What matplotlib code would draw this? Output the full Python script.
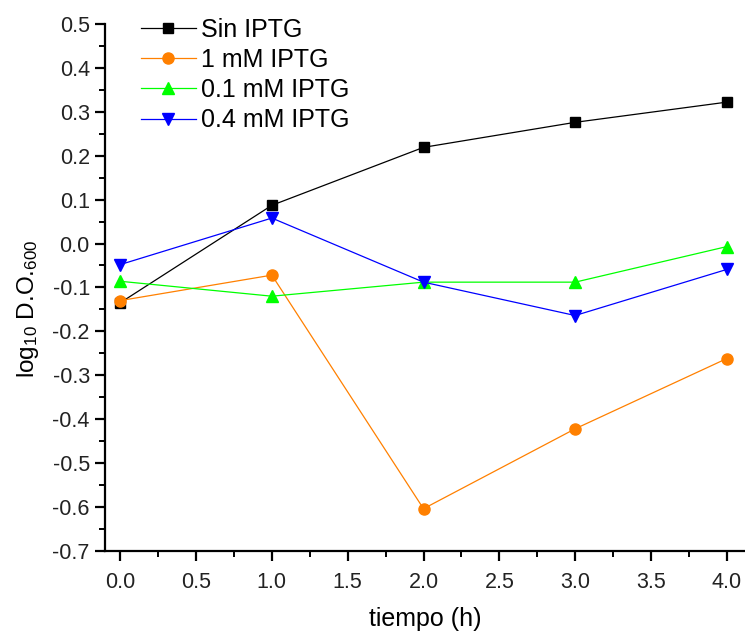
import matplotlib.pyplot as plt
from matplotlib.ticker import MultipleLocator, FormatStrFormatter

plt.rcParams['font.family'] = ['Liberation Sans', 'DejaVu Sans']
plt.rcParams['mathtext.fontset'] = 'custom'
plt.rcParams['mathtext.rm'] = 'Liberation Sans'
plt.rcParams['mathtext.it'] = 'Liberation Sans:italic'
plt.rcParams['mathtext.bf'] = 'Liberation Sans:bold'

tiempo = [0, 1, 2, 3, 4]
sin_iptg = [-0.135, 0.087, 0.219, 0.276, 0.322]
iptg_1mm = [-0.130, -0.072, -0.604, -0.422, -0.262]
iptg_01mm = [-0.086, -0.120, -0.088, -0.088, -0.007]
iptg_04mm = [-0.048, 0.058, -0.088, -0.164, -0.059]

fig = plt.figure(figsize=(7.45, 6.31), dpi=100)
ax = fig.add_axes([0.141, 0.127, 0.859, 0.835])

ax.plot(tiempo, sin_iptg, '-s', color='black', lw=0.9, ms=7.5, label='Sin IPTG')
ax.plot(tiempo, iptg_1mm, '-o', color='#FF8000', lw=0.9, ms=8, label='1 mM IPTG')
ax.plot(tiempo, iptg_01mm, '-^', color='#00FF00', lw=0.9, ms=9, label='0.1 mM IPTG')
ax.plot(tiempo, iptg_04mm, '-v', color='#0000FF', lw=0.9, ms=9, label='0.4 mM IPTG')

ax.set_xlim(-0.1, 4.12)
ax.set_ylim(-0.7, 0.5)
ax.xaxis.set_major_locator(MultipleLocator(0.5))
ax.xaxis.set_minor_locator(MultipleLocator(0.25))
ax.yaxis.set_major_locator(MultipleLocator(0.1))
ax.yaxis.set_minor_locator(MultipleLocator(0.05))
ax.xaxis.set_major_formatter(FormatStrFormatter('%.1f'))
ax.yaxis.set_major_formatter(FormatStrFormatter('%.1f'))

for s in ['top', 'right']:
    ax.spines[s].set_visible(False)
for s in ['left', 'bottom']:
    ax.spines[s].set_linewidth(1.6)

ax.tick_params(which='major', direction='out', length=7, width=1.6,
               labelsize=15.5, colors='black', pad=4)
ax.tick_params(which='minor', direction='out', length=4, width=1.4)
ax.tick_params(axis='x', pad=8)
for lab in ax.get_xticklabels() + ax.get_yticklabels():
    lab.set_color('#222222')

ax.set_xlabel('tiempo (h)', fontsize=18, labelpad=10)
ax.set_ylabel('log$_{10}$ D.O.$_{600}$', fontsize=17.5)
ax.yaxis.set_label_coords(-0.1, 0.46)

ax.legend(loc='upper left', bbox_to_anchor=(0.04, 1.031), frameon=False,
          fontsize=18, handlelength=2.2, handletextpad=0.2, labelspacing=0.25,
          borderaxespad=0)

fig.savefig('out.png', dpi=100)
